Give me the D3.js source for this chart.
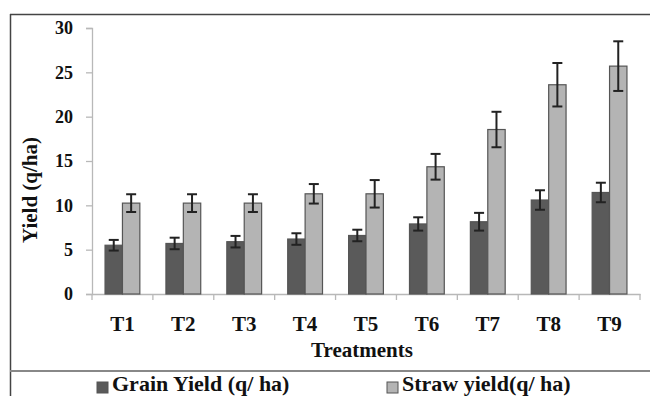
<!DOCTYPE html>
<html><head><meta charset="utf-8">
<script src="https://cdn.jsdelivr.net/npm/d3@7"></script>
<style>body{margin:0;background:#fff;}svg{display:block;}</style>
</head><body>
<svg id="c" width="650" height="396"></svg>
<script>
const categories = ["T1","T2","T3","T4","T5","T6","T7","T8","T9"];
const seriesNames = ["Grain Yield (q/ ha)", "Straw yield(q/ ha)"];
const grain = [5.5, 5.7, 5.9, 6.2, 6.6, 7.9, 8.15, 10.6, 11.45];
const grainErr = [0.6, 0.65, 0.65, 0.65, 0.65, 0.75, 1.0, 1.1, 1.1];
const straw = [10.25, 10.25, 10.25, 11.3, 11.3, 14.35, 18.55, 23.6, 25.7];
const strawErr = [1.0, 1.0, 1.0, 1.1, 1.55, 1.45, 2.0, 2.45, 2.8];
const yTicks = [0, 5, 10, 15, 20, 25, 30];
const colors = ["#5a5a5a", "#b4b4b4"];

const svg = d3.select("#c");
const font = "'Liberation Serif','Times New Roman',serif";
const L = 92, R = 640, T = 28, B = 294;

// frame
svg.append("line").attr("x1",10).attr("x2",650).attr("y1",14.5).attr("y2",14.5).attr("stroke","#444").attr("stroke-width",1.5);
svg.append("line").attr("x1",10.5).attr("x2",10.5).attr("y1",14).attr("y2",396).attr("stroke","#444").attr("stroke-width",1.5);
svg.append("line").attr("x1",10).attr("x2",650).attr("y1",371).attr("y2",371).attr("stroke","#888").attr("stroke-width",2);

const y = d3.scaleLinear().domain([0,30]).range([B,T]);
const x0 = d3.scaleBand().domain(categories).range([L,R]).padding(0);
const x1 = d3.scaleBand().domain(seriesNames).range([0,x0.bandwidth()]).paddingInner(0).paddingOuter(0.75);

// y axis
const ya = svg.append("g").attr("transform",`translate(${L},0)`)
  .call(d3.axisLeft(y).tickValues(yTicks).tickSize(6).tickPadding(13));
ya.selectAll("path,line").attr("stroke","#b8b8b8").attr("stroke-width",1.3);
ya.selectAll("text").attr("font-family",font).attr("font-weight","bold").attr("font-size",18).attr("fill","#111");

// x axis
const xa = svg.append("g").attr("transform",`translate(0,${B})`)
  .call(d3.axisBottom(x0).tickSize(0).tickPadding(22));
xa.select("path").attr("stroke","#b8b8b8").attr("stroke-width",1.3);
xa.selectAll("text").attr("font-family",font).attr("font-weight","bold").attr("font-size",21).attr("fill","#111");
// boundary ticks
const bounds = categories.map(c => x0(c)).concat([R]);
svg.append("g").selectAll("line").data(bounds).join("line")
  .attr("x1",d=>d).attr("x2",d=>d).attr("y1",B).attr("y2",B+6)
  .attr("stroke","#b8b8b8").attr("stroke-width",1.3);

const data = categories.map((c,i)=>({c, vals:[{s:seriesNames[0],v:grain[i],e:grainErr[i],k:0},{s:seriesNames[1],v:straw[i],e:strawErr[i],k:1}]}));

const g = svg.append("g").selectAll("g").data(data).join("g")
  .attr("transform",d=>`translate(${x0(d.c)},0)`);
g.selectAll("rect").data(d=>d.vals).join("rect")
  .attr("x",d=>x1(d.s)).attr("width",x1.bandwidth())
  .attr("y",d=>y(d.v)).attr("height",d=>B-y(d.v))
  .attr("fill",d=>colors[d.k]).attr("stroke","#555").attr("stroke-width",1.2);

const eb = g.selectAll("g.e").data(d=>d.vals).join("g").attr("class","e");
eb.append("line").attr("x1",d=>x1(d.s)+x1.bandwidth()/2).attr("x2",d=>x1(d.s)+x1.bandwidth()/2)
  .attr("y1",d=>y(d.v+d.e)).attr("y2",d=>y(d.v-d.e)).attr("stroke","#222").attr("stroke-width",2);
[1,-1].forEach(sg=>{
  eb.append("line").attr("x1",d=>x1(d.s)+x1.bandwidth()/2-5).attr("x2",d=>x1(d.s)+x1.bandwidth()/2+5)
    .attr("y1",d=>y(d.v+sg*d.e)).attr("y2",d=>y(d.v+sg*d.e)).attr("stroke","#222").attr("stroke-width",2);
});

// axis titles
svg.append("text").attr("x",(L+R)/2-4).attr("y",357).attr("text-anchor","middle")
  .attr("font-family",font).attr("font-weight","bold").attr("font-size",21).attr("fill","#111").text("Treatments");
svg.append("text").attr("transform","translate(37,190) rotate(-90)").attr("text-anchor","middle")
  .attr("font-family",font).attr("font-weight","bold").attr("font-size",21).attr("fill","#111").text("Yield (q/ha)");

// legend
const legX = [97, 387];
seriesNames.forEach((s,i)=>{
  svg.append("rect").attr("x",legX[i]).attr("y",382).attr("width",11).attr("height",11)
    .attr("fill",colors[i]).attr("stroke","#555").attr("stroke-width",1);
  svg.append("text").attr("x",legX[i]+15).attr("y",391).attr("font-family",font).attr("font-weight","bold")
    .attr("font-size",22).attr("fill","#111").text(s);
});
</script>
</body></html>
